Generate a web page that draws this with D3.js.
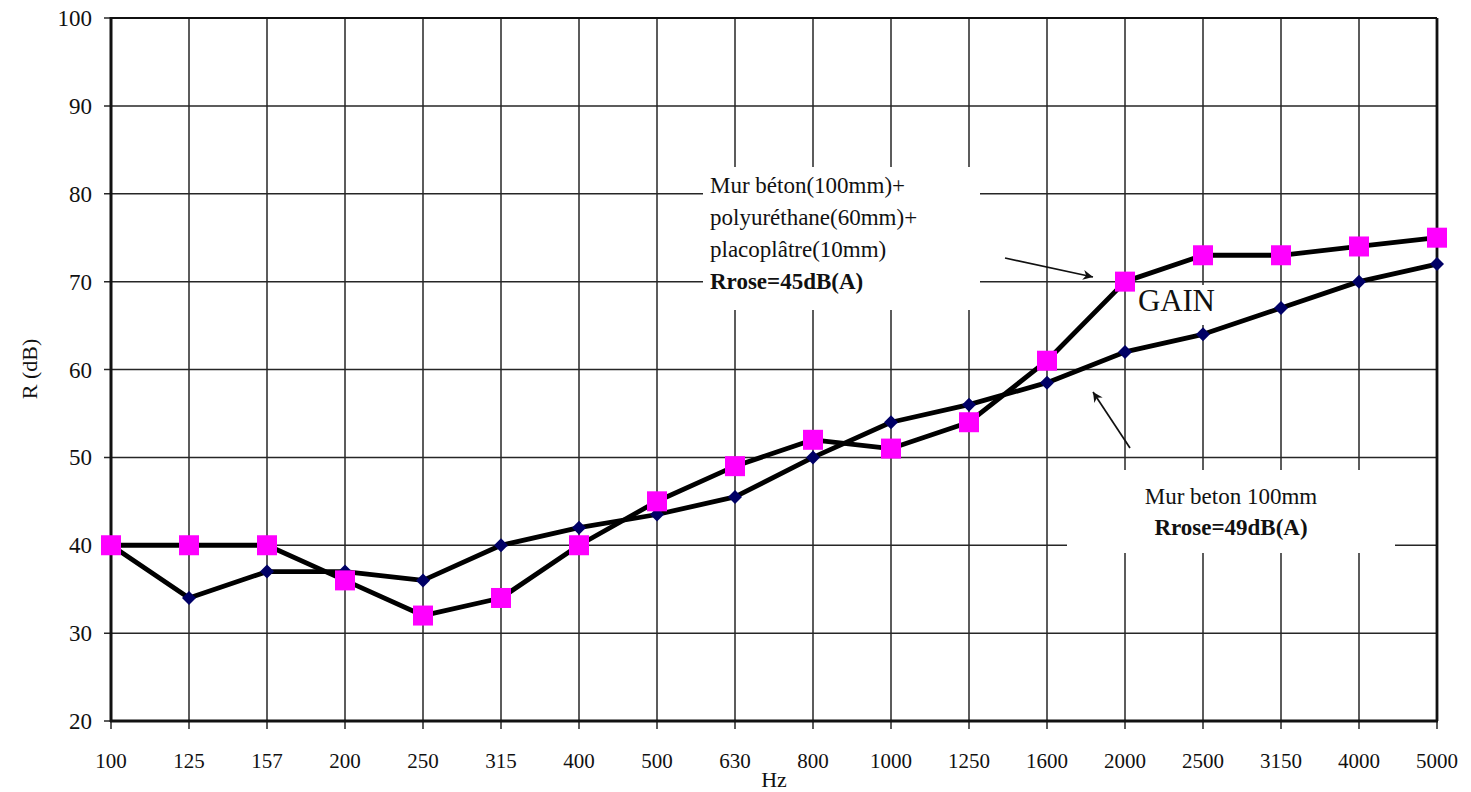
<!DOCTYPE html>
<html>
<head>
<meta charset="utf-8">
<script src="https://cdn.jsdelivr.net/npm/d3@7"></script>
<style>
  html, body { margin: 0; padding: 0; background: #fff; }
  svg { display: block; }
  text { font-family: "Liberation Serif", "Times New Roman", serif; fill: #111; }
</style>
</head>
<body>
<svg id="chart" width="1471" height="792"></svg>
<script>
// Third-octave band centre frequencies (Hz)
const frequencies = ["100", "125", "157", "200", "250", "315", "400", "500", "630", "800",
  "1000", "1250", "1600", "2000", "2500", "3150", "4000", "5000"];

// Sound reduction index R (dB), concrete wall 100 mm alone
const murBeton = [40, 34, 37, 37, 36, 40, 42, 43.5, 45.5, 50, 54, 56, 58.5, 62, 64, 67, 70, 72];

// Concrete wall + polyurethane + plasterboard lining
const murDoublage = [40, 40, 40, 36, 32, 34, 40, 45, 49, 52, 51, 54, 61, 70, 73, 73, 74, 75];

const yTicks = [20, 30, 40, 50, 60, 70, 80, 90, 100];

const svg = d3.select("#chart");
const plotL = 111, plotR = 1437, plotT = 18, plotB = 721;

const x = d3.scalePoint().domain(frequencies).range([plotL, plotR]);
const y = d3.scaleLinear().domain([20, 100]).range([plotB, plotT]);

// Grid
const grid = svg.append("g");
grid.selectAll("line.v").data(frequencies).join("line")
  .attr("x1", d => x(d)).attr("x2", d => x(d))
  .attr("y1", plotT).attr("y2", plotB + 8)
  .attr("stroke", "#262626").attr("stroke-width", 1.5);
grid.selectAll("line.h").data(yTicks).join("line")
  .attr("x1", plotL - 7).attr("x2", plotR)
  .attr("y1", d => y(d)).attr("y2", d => y(d))
  .attr("stroke", "#262626").attr("stroke-width", 1.5);

// Frame
svg.append("line").attr("x1", plotL).attr("x2", plotR).attr("y1", plotT).attr("y2", plotT)
  .attr("stroke", "#111").attr("stroke-width", 2.2);
svg.append("line").attr("x1", plotR).attr("x2", plotR).attr("y1", plotT).attr("y2", plotB)
  .attr("stroke", "#111").attr("stroke-width", 2.8);
svg.append("line").attr("x1", plotL).attr("x2", plotL).attr("y1", plotT - 1).attr("y2", plotB + 1)
  .attr("stroke", "#111").attr("stroke-width", 3);
svg.append("line").attr("x1", plotL - 1).attr("x2", plotR + 1).attr("y1", plotB).attr("y2", plotB)
  .attr("stroke", "#111").attr("stroke-width", 3);

// Tick labels
svg.append("g").selectAll("text").data(yTicks).join("text")
  .attr("x", 92).attr("y", d => y(d) + 8)
  .attr("text-anchor", "end").attr("font-size", 23)
  .text(d => d);
svg.append("g").selectAll("text").data(frequencies).join("text")
  .attr("x", d => x(d)).attr("y", 768)
  .attr("text-anchor", "middle").attr("font-size", 21)
  .text(d => d);

// Axis titles
svg.append("text").attr("x", 774).attr("y", 787).attr("text-anchor", "middle")
  .attr("font-size", 22).text("Hz");
svg.append("text").attr("transform", "translate(37,369) rotate(-90)")
  .attr("text-anchor", "middle").attr("font-size", 22).text("R (dB)");

// Annotation boxes (white fill hides the grid beneath)
const boxes = svg.append("g");
boxes.append("rect").attr("x", 703).attr("y", 167).attr("width", 277).attr("height", 143).attr("fill", "#fff");
boxes.append("rect").attr("x", 1129).attr("y", 285).attr("width", 99).attr("height", 40).attr("fill", "#fff");
boxes.append("rect").attr("x", 1067).attr("y", 470).attr("width", 328).attr("height", 83).attr("fill", "#fff");

const label1 = ["Mur béton(100mm)+", "polyuréthane(60mm)+", "placoplâtre(10mm)"];
boxes.selectAll("text.l1").data(label1).join("text")
  .attr("x", 710).attr("y", (d, i) => 193 + i * 32)
  .attr("font-size", 23).text(d => d);
boxes.append("text").attr("x", 710).attr("y", 289).attr("font-size", 23)
  .attr("font-weight", "bold").text("Rrose=45dB(A)");

boxes.append("text").attr("x", 1138).attr("y", 311).attr("font-size", 31)
  .attr("textLength", 77).text("GAIN");

boxes.append("text").attr("x", 1231).attr("y", 504).attr("text-anchor", "middle")
  .attr("font-size", 23).text("Mur beton 100mm");
boxes.append("text").attr("x", 1231).attr("y", 535).attr("text-anchor", "middle")
  .attr("font-size", 23).attr("font-weight", "bold").text("Rrose=49dB(A)");

// Arrows
svg.append("defs").append("marker")
  .attr("id", "head").attr("viewBox", "0 0 10 10")
  .attr("refX", 10).attr("refY", 5)
  .attr("markerWidth", 16).attr("markerHeight", 10)
  .attr("markerUnits", "userSpaceOnUse")
  .attr("orient", "auto")
  .append("path").attr("d", "M0,0 L10,5 L0,10 L3,5 Z").attr("fill", "#111");
svg.append("line").attr("x1", 1005).attr("y1", 258).attr("x2", 1093).attr("y2", 277)
  .attr("stroke", "#111").attr("stroke-width", 1.7).attr("marker-end", "url(#head)");
svg.append("line").attr("x1", 1130).attr("y1", 448).attr("x2", 1093).attr("y2", 392)
  .attr("stroke", "#111").attr("stroke-width", 1.7).attr("marker-end", "url(#head)");

// Series
const line = (vals) => d3.line()
  .x((d, i) => x(frequencies[i]))
  .y(d => y(d))(vals);

svg.append("path").attr("d", line(murBeton))
  .attr("fill", "none").attr("stroke", "#000").attr("stroke-width", 4.8)
  .attr("stroke-linejoin", "round");
svg.append("path").attr("d", line(murDoublage))
  .attr("fill", "none").attr("stroke", "#000").attr("stroke-width", 4.8)
  .attr("stroke-linejoin", "round");

svg.append("g").selectAll("path").data(murBeton).join("path")
  .attr("transform", (d, i) => `translate(${x(frequencies[i])},${y(d)})`)
  .attr("d", "M0,-7 L7,0 L0,7 L-7,0 Z")
  .attr("fill", "#000066");

svg.append("g").selectAll("rect").data(murDoublage).join("rect")
  .attr("x", (d, i) => x(frequencies[i]) - 10)
  .attr("y", d => y(d) - 10)
  .attr("width", 20).attr("height", 20)
  .attr("fill", "#ff00ff");
</script>
</body>
</html>
